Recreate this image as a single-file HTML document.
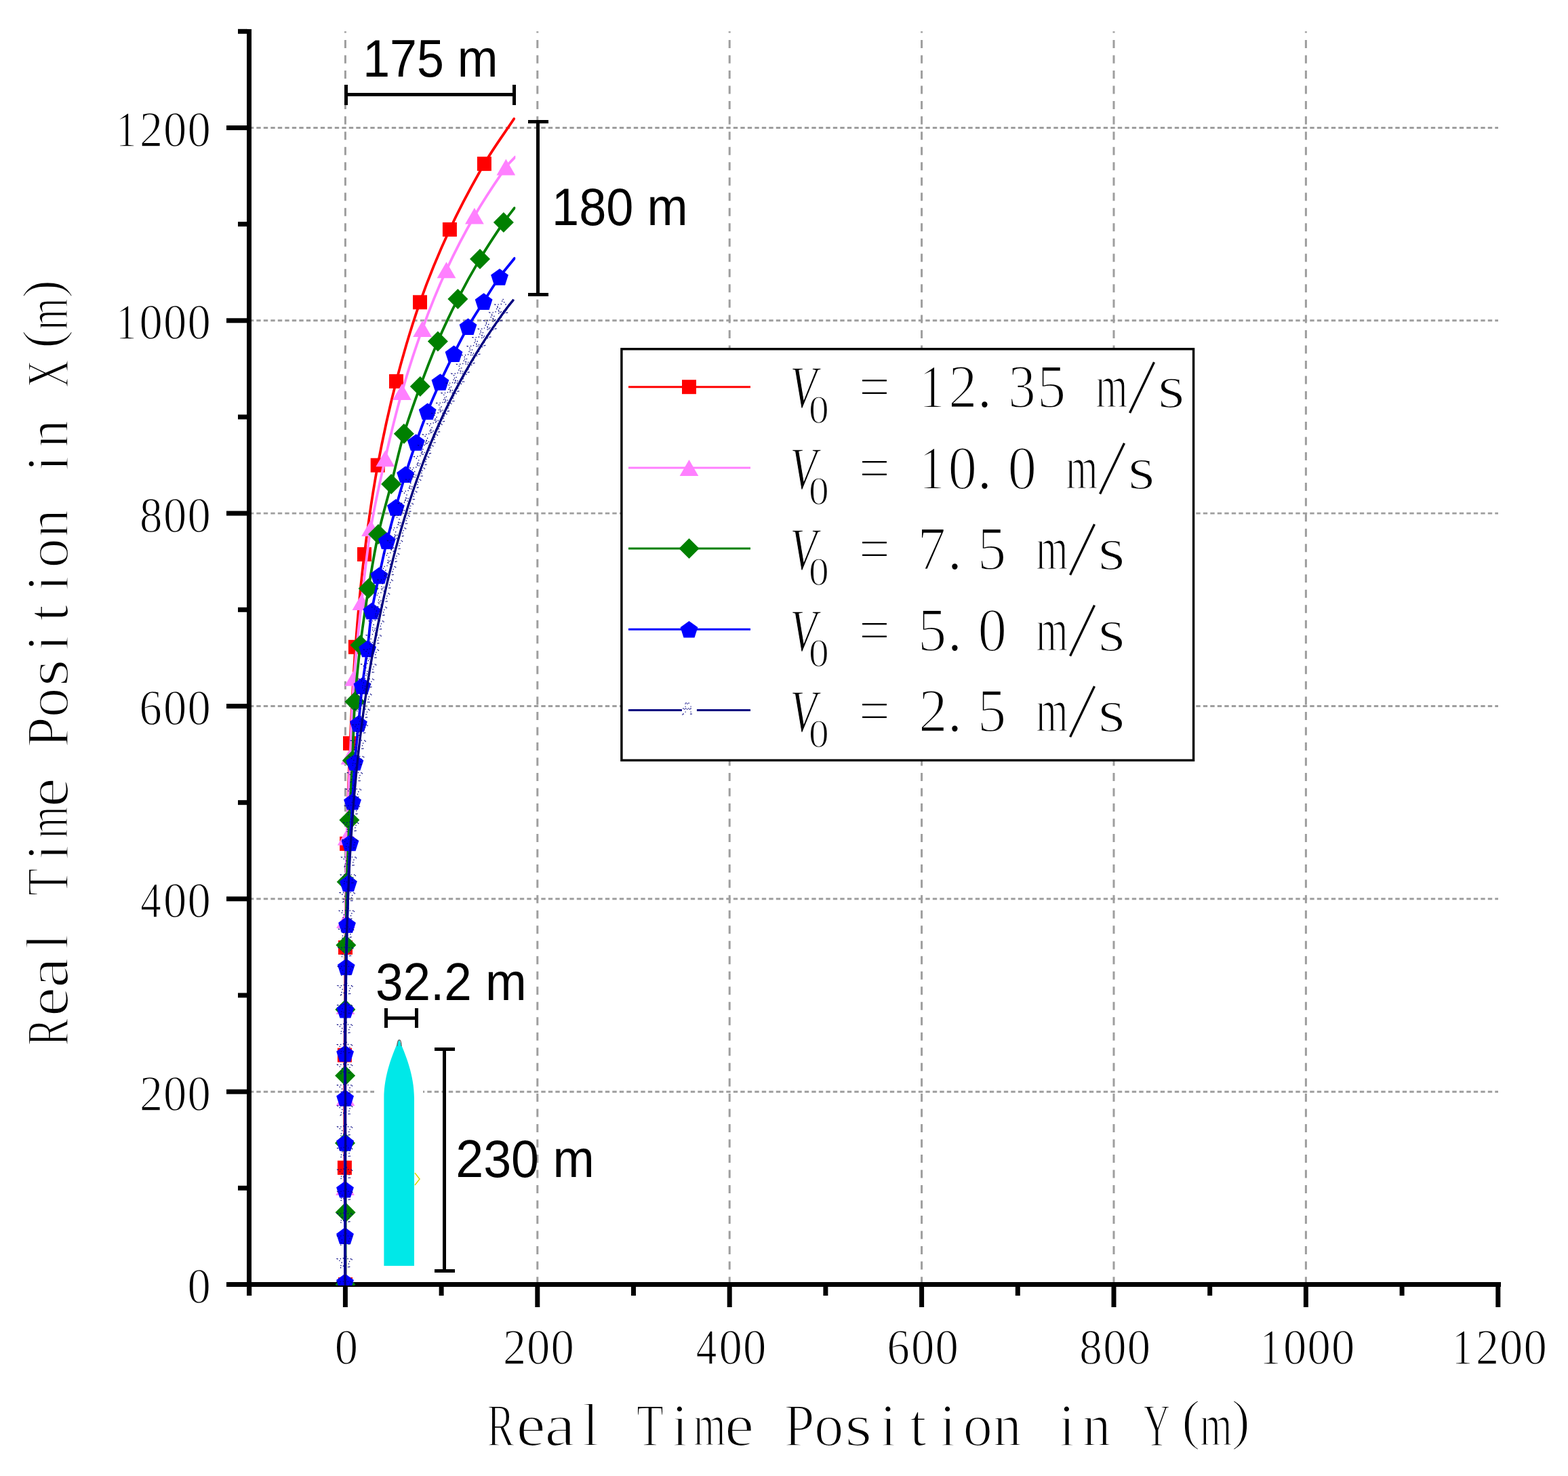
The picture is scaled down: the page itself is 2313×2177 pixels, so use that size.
<!DOCTYPE html><html><head><meta charset="utf-8"><style>html,body{margin:0;padding:0;background:#fff}svg{display:block}</style></head><body>
<svg width="2313" height="2177" viewBox="0 0 2313 2177">
<rect x="0" y="0" width="2313" height="2177" fill="#fff"/>
<line x1="371" y1="1610.2" x2="2210" y2="1610.2" stroke="#9e9e9e" stroke-width="2.9" stroke-dasharray="6.4 4.1" stroke-dashoffset="3.2"/>
<line x1="371" y1="1325.8" x2="2210" y2="1325.8" stroke="#9e9e9e" stroke-width="2.9" stroke-dasharray="6.4 4.1" stroke-dashoffset="3.2"/>
<line x1="371" y1="1041.5" x2="2210" y2="1041.5" stroke="#9e9e9e" stroke-width="2.9" stroke-dasharray="6.4 4.1" stroke-dashoffset="3.2"/>
<line x1="371" y1="757.1" x2="2210" y2="757.1" stroke="#9e9e9e" stroke-width="2.9" stroke-dasharray="6.4 4.1" stroke-dashoffset="3.2"/>
<line x1="371" y1="472.8" x2="2210" y2="472.8" stroke="#9e9e9e" stroke-width="2.9" stroke-dasharray="6.4 4.1" stroke-dashoffset="3.2"/>
<line x1="371" y1="188.5" x2="2210" y2="188.5" stroke="#9e9e9e" stroke-width="2.9" stroke-dasharray="6.4 4.1" stroke-dashoffset="3.2"/>
<line x1="509.4" y1="46.3" x2="509.4" y2="1891" stroke="#9e9e9e" stroke-width="3" stroke-dasharray="12 10.52" stroke-dashoffset="9.8"/>
<line x1="792.8" y1="46.3" x2="792.8" y2="1891" stroke="#9e9e9e" stroke-width="3" stroke-dasharray="12 10.52" stroke-dashoffset="9.8"/>
<line x1="1076.2" y1="46.3" x2="1076.2" y2="1891" stroke="#9e9e9e" stroke-width="3" stroke-dasharray="12 10.52" stroke-dashoffset="9.8"/>
<line x1="1359.6" y1="46.3" x2="1359.6" y2="1891" stroke="#9e9e9e" stroke-width="3" stroke-dasharray="12 10.52" stroke-dashoffset="9.8"/>
<line x1="1643.0" y1="46.3" x2="1643.0" y2="1891" stroke="#9e9e9e" stroke-width="3" stroke-dasharray="12 10.52" stroke-dashoffset="9.8"/>
<line x1="1926.4" y1="46.3" x2="1926.4" y2="1891" stroke="#9e9e9e" stroke-width="3" stroke-dasharray="12 10.52" stroke-dashoffset="9.8"/>
<rect x="552" y="1525" width="72" height="347" fill="#fff"/>
<rect x="364" y="43" width="7" height="1868" fill="#000"/>
<rect x="334" y="1891" width="1880" height="7" fill="#000"/>
<rect x="334" y="1891.0" width="31" height="7" fill="#000"/>
<rect x="351" y="1748.8" width="14" height="7" fill="#000"/>
<rect x="334" y="1606.7" width="31" height="7" fill="#000"/>
<rect x="351" y="1464.5" width="14" height="7" fill="#000"/>
<rect x="334" y="1322.3" width="31" height="7" fill="#000"/>
<rect x="351" y="1180.2" width="14" height="7" fill="#000"/>
<rect x="334" y="1038.0" width="31" height="7" fill="#000"/>
<rect x="351" y="895.8" width="14" height="7" fill="#000"/>
<rect x="334" y="753.6" width="31" height="7" fill="#000"/>
<rect x="351" y="611.5" width="14" height="7" fill="#000"/>
<rect x="334" y="469.3" width="31" height="7" fill="#000"/>
<rect x="351" y="327.1" width="14" height="7" fill="#000"/>
<rect x="334" y="185.0" width="31" height="7" fill="#000"/>
<rect x="351" y="42.8" width="14" height="7" fill="#000"/>
<rect x="364.2" y="1897" width="7" height="14" fill="#000"/>
<rect x="505.9" y="1897" width="7" height="31" fill="#000"/>
<rect x="647.6" y="1897" width="7" height="14" fill="#000"/>
<rect x="789.3" y="1897" width="7" height="31" fill="#000"/>
<rect x="931.0" y="1897" width="7" height="14" fill="#000"/>
<rect x="1072.7" y="1897" width="7" height="31" fill="#000"/>
<rect x="1214.4" y="1897" width="7" height="14" fill="#000"/>
<rect x="1356.1" y="1897" width="7" height="31" fill="#000"/>
<rect x="1497.8" y="1897" width="7" height="14" fill="#000"/>
<rect x="1639.5" y="1897" width="7" height="31" fill="#000"/>
<rect x="1781.2" y="1897" width="7" height="14" fill="#000"/>
<rect x="1922.9" y="1897" width="7" height="31" fill="#000"/>
<rect x="2064.6" y="1897" width="7" height="14" fill="#000"/>
<rect x="2206.3" y="1897" width="7" height="31" fill="#000"/>
<text style="font-family:'Liberation Serif','Noto Serif CJK SC',serif;stroke:#fff;stroke-width:1.4px;font-size:74px"><tspan x="276.5" y="1922.0" textLength="34.33" lengthAdjust="spacingAndGlyphs">0</tspan></text>
<text style="font-family:'Liberation Serif','Noto Serif CJK SC',serif;stroke:#fff;stroke-width:1.4px;font-size:74px"><tspan x="206.0" y="1637.7" textLength="34.08" lengthAdjust="spacingAndGlyphs">2</tspan><tspan x="241.0" y="1637.7" textLength="34.33" lengthAdjust="spacingAndGlyphs">0</tspan><tspan x="276.5" y="1637.7" textLength="34.33" lengthAdjust="spacingAndGlyphs">0</tspan></text>
<text style="font-family:'Liberation Serif','Noto Serif CJK SC',serif;stroke:#fff;stroke-width:1.4px;font-size:74px"><tspan x="207.2" y="1353.3" textLength="30.60" lengthAdjust="spacingAndGlyphs">4</tspan><tspan x="241.0" y="1353.3" textLength="34.33" lengthAdjust="spacingAndGlyphs">0</tspan><tspan x="276.5" y="1353.3" textLength="34.33" lengthAdjust="spacingAndGlyphs">0</tspan></text>
<text style="font-family:'Liberation Serif','Noto Serif CJK SC',serif;stroke:#fff;stroke-width:1.4px;font-size:74px"><tspan x="205.6" y="1069.0" textLength="33.26" lengthAdjust="spacingAndGlyphs">6</tspan><tspan x="241.0" y="1069.0" textLength="34.33" lengthAdjust="spacingAndGlyphs">0</tspan><tspan x="276.5" y="1069.0" textLength="34.33" lengthAdjust="spacingAndGlyphs">0</tspan></text>
<text style="font-family:'Liberation Serif','Noto Serif CJK SC',serif;stroke:#fff;stroke-width:1.4px;font-size:74px"><tspan x="205.9" y="784.6" textLength="33.49" lengthAdjust="spacingAndGlyphs">8</tspan><tspan x="241.0" y="784.6" textLength="34.33" lengthAdjust="spacingAndGlyphs">0</tspan><tspan x="276.5" y="784.6" textLength="34.33" lengthAdjust="spacingAndGlyphs">0</tspan></text>
<text style="font-family:'Liberation Serif','Noto Serif CJK SC',serif;stroke:#fff;stroke-width:1.4px;font-size:74px"><tspan x="171.2" y="500.3" textLength="30.26" lengthAdjust="spacingAndGlyphs">1</tspan><tspan x="205.5" y="500.3" textLength="34.33" lengthAdjust="spacingAndGlyphs">0</tspan><tspan x="241.0" y="500.3" textLength="34.33" lengthAdjust="spacingAndGlyphs">0</tspan><tspan x="276.5" y="500.3" textLength="34.33" lengthAdjust="spacingAndGlyphs">0</tspan></text>
<text style="font-family:'Liberation Serif','Noto Serif CJK SC',serif;stroke:#fff;stroke-width:1.4px;font-size:74px"><tspan x="171.2" y="216.0" textLength="30.26" lengthAdjust="spacingAndGlyphs">1</tspan><tspan x="206.0" y="216.0" textLength="34.08" lengthAdjust="spacingAndGlyphs">2</tspan><tspan x="241.0" y="216.0" textLength="34.33" lengthAdjust="spacingAndGlyphs">0</tspan><tspan x="276.5" y="216.0" textLength="34.33" lengthAdjust="spacingAndGlyphs">0</tspan></text>
<text style="font-family:'Liberation Serif','Noto Serif CJK SC',serif;stroke:#fff;stroke-width:1.4px;font-size:74px"><tspan x="493.7" y="2012.0" textLength="34.33" lengthAdjust="spacingAndGlyphs">0</tspan></text>
<text style="font-family:'Liberation Serif','Noto Serif CJK SC',serif;stroke:#fff;stroke-width:1.4px;font-size:74px"><tspan x="742.1" y="2012.0" textLength="34.08" lengthAdjust="spacingAndGlyphs">2</tspan><tspan x="777.1" y="2012.0" textLength="34.33" lengthAdjust="spacingAndGlyphs">0</tspan><tspan x="812.6" y="2012.0" textLength="34.33" lengthAdjust="spacingAndGlyphs">0</tspan></text>
<text style="font-family:'Liberation Serif','Noto Serif CJK SC',serif;stroke:#fff;stroke-width:1.4px;font-size:74px"><tspan x="1026.8" y="2012.0" textLength="30.60" lengthAdjust="spacingAndGlyphs">4</tspan><tspan x="1060.5" y="2012.0" textLength="34.33" lengthAdjust="spacingAndGlyphs">0</tspan><tspan x="1096.0" y="2012.0" textLength="34.33" lengthAdjust="spacingAndGlyphs">0</tspan></text>
<text style="font-family:'Liberation Serif','Noto Serif CJK SC',serif;stroke:#fff;stroke-width:1.4px;font-size:74px"><tspan x="1308.5" y="2012.0" textLength="33.26" lengthAdjust="spacingAndGlyphs">6</tspan><tspan x="1343.9" y="2012.0" textLength="34.33" lengthAdjust="spacingAndGlyphs">0</tspan><tspan x="1379.4" y="2012.0" textLength="34.33" lengthAdjust="spacingAndGlyphs">0</tspan></text>
<text style="font-family:'Liberation Serif','Noto Serif CJK SC',serif;stroke:#fff;stroke-width:1.4px;font-size:74px"><tspan x="1592.3" y="2012.0" textLength="33.49" lengthAdjust="spacingAndGlyphs">8</tspan><tspan x="1627.3" y="2012.0" textLength="34.33" lengthAdjust="spacingAndGlyphs">0</tspan><tspan x="1662.8" y="2012.0" textLength="34.33" lengthAdjust="spacingAndGlyphs">0</tspan></text>
<text style="font-family:'Liberation Serif','Noto Serif CJK SC',serif;stroke:#fff;stroke-width:1.4px;font-size:74px"><tspan x="1858.7" y="2012.0" textLength="30.26" lengthAdjust="spacingAndGlyphs">1</tspan><tspan x="1893.0" y="2012.0" textLength="34.33" lengthAdjust="spacingAndGlyphs">0</tspan><tspan x="1928.5" y="2012.0" textLength="34.33" lengthAdjust="spacingAndGlyphs">0</tspan><tspan x="1964.0" y="2012.0" textLength="34.33" lengthAdjust="spacingAndGlyphs">0</tspan></text>
<text style="font-family:'Liberation Serif','Noto Serif CJK SC',serif;stroke:#fff;stroke-width:1.4px;font-size:74px"><tspan x="2142.1" y="2012.0" textLength="30.26" lengthAdjust="spacingAndGlyphs">1</tspan><tspan x="2176.9" y="2012.0" textLength="34.08" lengthAdjust="spacingAndGlyphs">2</tspan><tspan x="2211.9" y="2012.0" textLength="34.33" lengthAdjust="spacingAndGlyphs">0</tspan><tspan x="2247.4" y="2012.0" textLength="34.33" lengthAdjust="spacingAndGlyphs">0</tspan></text>
<text style="font-family:'Liberation Serif','Noto Serif CJK SC',serif;stroke:#fff;stroke-width:2.2px;font-size:89.8px"><tspan x="718.5" y="2132.4" textLength="40.20" lengthAdjust="spacingAndGlyphs">R</tspan><tspan x="761.6" y="2132.4" textLength="43.21" lengthAdjust="spacingAndGlyphs">e</tspan><tspan x="803.3" y="2132.4" textLength="45.84" lengthAdjust="spacingAndGlyphs">a</tspan><tspan x="858.8" y="2132.4">l</tspan> <tspan x="939.1" y="2132.4" textLength="39.97" lengthAdjust="spacingAndGlyphs">T</tspan><tspan x="990.5" y="2132.4">i</tspan><tspan x="1023.1" y="2132.4" textLength="47.50" lengthAdjust="spacingAndGlyphs">m</tspan><tspan x="1069.1" y="2132.4" textLength="43.21" lengthAdjust="spacingAndGlyphs">e</tspan> <tspan x="1156.8" y="2132.4" textLength="44.75" lengthAdjust="spacingAndGlyphs">P</tspan><tspan x="1200.9" y="2132.4" textLength="43.52" lengthAdjust="spacingAndGlyphs">o</tspan><tspan x="1246.3" y="2132.4" textLength="40.19" lengthAdjust="spacingAndGlyphs">s</tspan><tspan x="1298.0" y="2132.4">i</tspan><tspan x="1341.8" y="2132.4">t</tspan><tspan x="1385.8" y="2132.4">i</tspan><tspan x="1420.6" y="2132.4" textLength="43.52" lengthAdjust="spacingAndGlyphs">o</tspan><tspan x="1465.0" y="2132.4" textLength="41.84" lengthAdjust="spacingAndGlyphs">n</tspan> <tspan x="1561.6" y="2132.4">i</tspan><tspan x="1596.8" y="2132.4" textLength="41.84" lengthAdjust="spacingAndGlyphs">n</tspan> <tspan x="1686.4" y="2132.4" textLength="39.77" lengthAdjust="spacingAndGlyphs">Y</tspan><tspan x="1743.2" y="2122.4" textLength="27.32" lengthAdjust="spacingAndGlyphs" style="font-size:83.5px">(</tspan><tspan x="1769.9" y="2132.4" textLength="47.50" lengthAdjust="spacingAndGlyphs">m</tspan><tspan x="1816.6" y="2122.4" textLength="27.32" lengthAdjust="spacingAndGlyphs" style="font-size:83.5px">)</tspan></text>
<g transform="translate(99.6 1543.5) rotate(-90)"><text style="font-family:'Liberation Serif','Noto Serif CJK SC',serif;stroke:#fff;stroke-width:2.2px;font-size:89.8px"><tspan x="1.0" y="0.0" textLength="40.36" lengthAdjust="spacingAndGlyphs">R</tspan><tspan x="44.3" y="0.0" textLength="43.38" lengthAdjust="spacingAndGlyphs">e</tspan><tspan x="86.2" y="0.0" textLength="45.84" lengthAdjust="spacingAndGlyphs">a</tspan><tspan x="141.9" y="0.0">l</tspan> <tspan x="222.4" y="0.0" textLength="40.13" lengthAdjust="spacingAndGlyphs">T</tspan><tspan x="274.1" y="0.0">i</tspan><tspan x="306.8" y="0.0" textLength="47.68" lengthAdjust="spacingAndGlyphs">m</tspan><tspan x="353.0" y="0.0" textLength="43.38" lengthAdjust="spacingAndGlyphs">e</tspan> <tspan x="441.0" y="0.0" textLength="44.92" lengthAdjust="spacingAndGlyphs">P</tspan><tspan x="485.3" y="0.0" textLength="43.68" lengthAdjust="spacingAndGlyphs">o</tspan><tspan x="530.9" y="0.0" textLength="40.19" lengthAdjust="spacingAndGlyphs">s</tspan><tspan x="582.8" y="0.0">i</tspan><tspan x="626.8" y="0.0">t</tspan><tspan x="671.0" y="0.0">i</tspan><tspan x="705.8" y="0.0" textLength="43.68" lengthAdjust="spacingAndGlyphs">o</tspan><tspan x="750.4" y="0.0" textLength="42.00" lengthAdjust="spacingAndGlyphs">n</tspan> <tspan x="847.4" y="0.0">i</tspan><tspan x="882.7" y="0.0" textLength="42.00" lengthAdjust="spacingAndGlyphs">n</tspan> <tspan x="971.7" y="0.0" textLength="40.91" lengthAdjust="spacingAndGlyphs">X</tspan><tspan x="1029.6" y="-10.1" textLength="27.43" lengthAdjust="spacingAndGlyphs" style="font-size:83.5px">(</tspan><tspan x="1056.5" y="0.0" textLength="47.68" lengthAdjust="spacingAndGlyphs">m</tspan><tspan x="1103.4" y="-10.1" textLength="27.43" lengthAdjust="spacingAndGlyphs" style="font-size:83.5px">)</tspan></text></g>
<rect x="508" y="137.0" width="253" height="5" fill="#000"/><rect x="508" y="125" width="5" height="30" fill="#000"/><rect x="756" y="125" width="5" height="30" fill="#000"/>
<text transform="matrix(0.932 0 0 1 535.2 113)" style="font-family:'Liberation Sans',Arial,sans-serif;font-size:77px">175 m</text>
<rect x="791.0" y="177" width="5" height="260" fill="#000"/><rect x="779" y="177" width="30" height="5" fill="#000"/><rect x="779" y="432" width="30" height="5" fill="#000"/>
<text transform="matrix(0.937 0 0 1 814.1 332)" style="font-family:'Liberation Sans',Arial,sans-serif;font-size:77px">180 m</text>
<rect x="567" y="1499.2" width="50" height="5" fill="#000"/><rect x="567" y="1487" width="5" height="29" fill="#000"/><rect x="612" y="1487" width="5" height="29" fill="#000"/>
<text transform="matrix(0.947 0 0 1 553.9 1475)" style="font-family:'Liberation Sans',Arial,sans-serif;font-size:77px">32.2 m</text>
<rect x="653.0" y="1545" width="5" height="332" fill="#000"/><rect x="641" y="1545" width="30" height="5" fill="#000"/><rect x="641" y="1872" width="30" height="5" fill="#000"/>
<text transform="matrix(0.956 0 0 1 672.2 1736)" style="font-family:'Liberation Sans',Arial,sans-serif;font-size:77px">230 m</text>
<path d="M588.6,1533 C598,1555 611,1585 611,1620 L611,1867 L566.4,1867 L566.4,1620 C566.4,1585 579,1555 588.6,1533 Z" fill="#00e8e8"/>
<path d="M612,1730 L619,1739 L612,1748" fill="none" stroke="#d8d800" stroke-width="1.5"/>
<path d="M586,1543 C586,1531 592,1531 592,1543" fill="none" stroke="#666" stroke-width="1.3"/>
<defs><clipPath id="pc"><rect x="300" y="40" width="460.3" height="1856"/></clipPath></defs><g clip-path="url(#pc)">
<path d="M509.5,1894.5 C509.1,1837.1 508.6,1779.7 508.4,1722.3 C508.2,1666.9 508.2,1611.6 508.4,1556.2 C508.6,1503.3 509.0,1450.4 509.5,1397.5 C510.0,1346.5 510.4,1295.4 511.6,1244.4 C512.7,1195.0 514.3,1145.6 516.5,1096.3 C518.6,1048.9 520.8,1001.6 524.4,954.3 C527.8,908.7 531.9,863.0 537.5,817.6 C542.9,773.6 549.2,729.8 557.2,686.2 C564.9,644.6 573.9,603.3 584.5,562.4 C594.7,523.1 606.0,484.1 619.5,445.8 C632.3,409.4 647.1,373.5 663.4,338.5 C678.8,305.4 696.1,273.2 714.4,241.6 C727.7,218.7 743.6,197.3 758.2,175.2" fill="none" stroke="#ff0000" stroke-width="3.8" stroke-linejoin="round" stroke-linecap="round"/>
<rect x="499.0" y="1884.0" width="21" height="21" fill="#ff0000"/>
<rect x="497.9" y="1711.8" width="21" height="21" fill="#ff0000"/>
<rect x="497.9" y="1545.7" width="21" height="21" fill="#ff0000"/>
<rect x="499.0" y="1387.0" width="21" height="21" fill="#ff0000"/>
<rect x="501.1" y="1233.9" width="21" height="21" fill="#ff0000"/>
<rect x="506.0" y="1085.8" width="21" height="21" fill="#ff0000"/>
<rect x="513.9" y="943.8" width="21" height="21" fill="#ff0000"/>
<rect x="527.0" y="807.1" width="21" height="21" fill="#ff0000"/>
<rect x="546.7" y="675.7" width="21" height="21" fill="#ff0000"/>
<rect x="574.0" y="551.9" width="21" height="21" fill="#ff0000"/>
<rect x="609.0" y="435.3" width="21" height="21" fill="#ff0000"/>
<rect x="652.9" y="328.0" width="21" height="21" fill="#ff0000"/>
<rect x="703.9" y="231.1" width="21" height="21" fill="#ff0000"/>
<path d="M509.5,1894.5 C509.3,1846.7 509.0,1798.8 509.0,1751.0 C509.0,1707.0 509.4,1663.0 509.5,1619.0 C509.6,1574.0 509.4,1529.0 509.5,1484.0 C509.6,1441.7 509.6,1399.3 510.0,1357.0 C510.3,1316.3 510.5,1275.5 511.6,1234.8 C512.7,1195.0 514.7,1155.3 516.5,1115.5 C518.3,1076.9 519.4,1038.2 522.3,999.7 C525.1,962.4 529.2,925.2 533.4,888.0 C537.5,851.6 541.0,815.1 547.0,779.0 C552.7,744.5 560.5,710.3 568.3,676.2 C575.8,643.3 583.7,610.5 593.0,578.1 C602.0,546.8 611.9,515.7 623.1,485.1 C633.8,455.7 645.4,426.7 658.5,398.3 C671.0,371.1 684.9,344.4 699.9,318.5 C714.2,293.8 730.1,270.0 746.4,246.5 C750.2,241.0 755.5,236.6 760.0,231.6" fill="none" stroke="#ff80ff" stroke-width="3.8" stroke-linejoin="round" stroke-linecap="round"/>
<polygon points="509.5,1882.5 523.4,1906.5 495.6,1906.5" fill="#ff80ff"/>
<polygon points="509.0,1739.0 522.9,1763.0 495.1,1763.0" fill="#ff80ff"/>
<polygon points="509.5,1607.0 523.4,1631.0 495.6,1631.0" fill="#ff80ff"/>
<polygon points="509.5,1472.0 523.4,1496.0 495.6,1496.0" fill="#ff80ff"/>
<polygon points="510.0,1345.0 523.9,1369.0 496.1,1369.0" fill="#ff80ff"/>
<polygon points="511.6,1222.8 525.5,1246.8 497.8,1246.8" fill="#ff80ff"/>
<polygon points="516.5,1103.5 530.4,1127.5 502.6,1127.5" fill="#ff80ff"/>
<polygon points="522.3,987.7 536.1,1011.7 508.4,1011.7" fill="#ff80ff"/>
<polygon points="533.4,876.0 547.2,900.0 519.5,900.0" fill="#ff80ff"/>
<polygon points="547.0,767.0 560.9,791.0 533.1,791.0" fill="#ff80ff"/>
<polygon points="568.3,664.2 582.1,688.2 554.4,688.2" fill="#ff80ff"/>
<polygon points="593.0,566.1 606.9,590.1 579.1,590.1" fill="#ff80ff"/>
<polygon points="623.1,473.1 637.0,497.1 609.2,497.1" fill="#ff80ff"/>
<polygon points="658.5,386.3 672.4,410.3 644.6,410.3" fill="#ff80ff"/>
<polygon points="699.9,306.5 713.8,330.5 686.0,330.5" fill="#ff80ff"/>
<polygon points="746.4,234.5 760.2,258.5 732.5,258.5" fill="#ff80ff"/>
<path d="M509.5,1894.5 C509.5,1859.1 509.7,1823.6 509.6,1788.2 C509.5,1754.1 509.1,1720.1 509.0,1686.0 C508.9,1652.8 509.0,1619.6 509.1,1586.4 C509.2,1553.9 509.2,1521.5 509.4,1489.0 C509.6,1457.3 510.0,1425.6 510.4,1393.9 C510.8,1362.8 510.9,1331.8 511.7,1300.7 C512.5,1270.3 514.0,1240.0 515.4,1209.6 C516.7,1180.3 518.5,1151.0 519.9,1121.7 C521.2,1092.8 521.5,1063.9 523.5,1035.1 C525.4,1007.2 528.2,979.3 531.5,951.5 C534.9,923.6 539.1,895.8 543.6,868.0 C547.9,841.3 552.2,814.5 558.0,788.0 C563.4,763.1 570.8,738.7 577.1,714.0 C583.4,689.2 588.6,664.2 595.9,639.7 C602.9,616.1 611.3,593.0 619.8,569.9 C628.0,547.5 636.5,525.3 645.9,503.4 C655.0,482.2 664.9,461.4 675.4,440.9 C685.6,420.9 696.5,401.2 708.0,381.9 C719.0,363.5 730.9,345.6 742.9,327.9 C747.9,320.6 753.6,313.8 759.0,306.7" fill="none" stroke="#008000" stroke-width="3.8" stroke-linejoin="round" stroke-linecap="round"/>
<polygon points="509.5,1879.5 524.5,1894.5 509.5,1909.5 494.5,1894.5" fill="#008000"/>
<polygon points="509.6,1773.2 524.6,1788.2 509.6,1803.2 494.6,1788.2" fill="#008000"/>
<polygon points="509.0,1671.0 524.0,1686.0 509.0,1701.0 494.0,1686.0" fill="#008000"/>
<polygon points="509.1,1571.4 524.1,1586.4 509.1,1601.4 494.1,1586.4" fill="#008000"/>
<polygon points="509.4,1474.0 524.4,1489.0 509.4,1504.0 494.4,1489.0" fill="#008000"/>
<polygon points="510.4,1378.9 525.4,1393.9 510.4,1408.9 495.4,1393.9" fill="#008000"/>
<polygon points="511.7,1285.7 526.7,1300.7 511.7,1315.7 496.7,1300.7" fill="#008000"/>
<polygon points="515.4,1194.6 530.4,1209.6 515.4,1224.6 500.4,1209.6" fill="#008000"/>
<polygon points="519.9,1106.7 534.9,1121.7 519.9,1136.7 504.9,1121.7" fill="#008000"/>
<polygon points="523.5,1020.1 538.5,1035.1 523.5,1050.1 508.5,1035.1" fill="#008000"/>
<polygon points="531.5,936.5 546.5,951.5 531.5,966.5 516.5,951.5" fill="#008000"/>
<polygon points="543.6,853.0 558.6,868.0 543.6,883.0 528.6,868.0" fill="#008000"/>
<polygon points="558.0,773.0 573.0,788.0 558.0,803.0 543.0,788.0" fill="#008000"/>
<polygon points="577.1,699.0 592.1,714.0 577.1,729.0 562.1,714.0" fill="#008000"/>
<polygon points="595.9,624.7 610.9,639.7 595.9,654.7 580.9,639.7" fill="#008000"/>
<polygon points="619.8,554.9 634.8,569.9 619.8,584.9 604.8,569.9" fill="#008000"/>
<polygon points="645.9,488.4 660.9,503.4 645.9,518.4 630.9,503.4" fill="#008000"/>
<polygon points="675.4,425.9 690.4,440.9 675.4,455.9 660.4,440.9" fill="#008000"/>
<polygon points="708.0,366.9 723.0,381.9 708.0,396.9 693.0,381.9" fill="#008000"/>
<polygon points="742.9,312.9 757.9,327.9 742.9,342.9 727.9,327.9" fill="#008000"/>
<path d="M509.0,1890.9 C509.0,1868.1 509.0,1845.4 509.0,1822.6 C509.0,1799.8 509.0,1777.0 509.0,1754.2 C509.0,1731.3 509.1,1708.4 509.1,1685.5 C509.1,1663.5 509.1,1641.4 509.1,1619.4 C509.1,1597.5 509.0,1575.6 509.1,1553.7 C509.1,1532.2 509.1,1510.8 509.4,1489.3 C509.7,1468.2 510.3,1447.1 510.7,1426.0 C511.1,1405.3 511.5,1384.5 512.0,1363.8 C512.5,1343.4 513.1,1323.0 513.9,1302.6 C514.6,1282.7 515.5,1262.9 516.5,1243.0 C517.5,1222.8 518.8,1202.5 520.0,1182.3 C521.1,1163.0 521.9,1143.6 523.4,1124.3 C524.9,1105.2 527.0,1086.2 528.9,1067.2 C530.7,1048.6 532.2,1030.0 534.4,1011.4 C536.6,993.2 539.8,975.1 542.1,956.9 C544.5,938.3 545.6,919.6 548.5,901.1 C551.3,883.6 555.5,866.3 559.3,848.9 C563.0,831.8 566.7,814.6 570.9,797.6 C574.9,781.1 579.4,764.7 583.9,748.4 C588.4,732.1 593.1,715.9 598.1,699.8 C603.0,683.9 608.3,668.2 613.8,652.5 C619.2,637.2 624.7,621.9 630.7,606.8 C636.5,592.2 642.9,577.8 649.4,563.5 C655.8,549.5 662.6,535.6 669.5,521.8 C676.3,508.3 683.0,494.8 690.5,481.7 C697.7,469.1 705.8,456.9 713.6,444.6 C721.3,432.5 728.7,420.2 737.0,408.5 C743.8,398.9 751.7,390.2 759.0,381.0" fill="none" stroke="#0000ff" stroke-width="3.8" stroke-linejoin="round" stroke-linecap="round"/>
<polygon points="509.0,1878.6 521.9,1888.0 517.0,1903.2 501.0,1903.2 496.1,1888.0" fill="#0000ff"/>
<polygon points="509.0,1810.3 521.9,1819.7 517.0,1834.9 501.0,1834.9 496.1,1819.7" fill="#0000ff"/>
<polygon points="509.0,1741.9 521.9,1751.3 517.0,1766.5 501.0,1766.5 496.1,1751.3" fill="#0000ff"/>
<polygon points="509.1,1673.2 522.0,1682.6 517.1,1697.8 501.1,1697.8 496.2,1682.6" fill="#0000ff"/>
<polygon points="509.1,1607.1 522.0,1616.5 517.1,1631.7 501.1,1631.7 496.2,1616.5" fill="#0000ff"/>
<polygon points="509.1,1541.4 522.0,1550.8 517.1,1566.0 501.1,1566.0 496.2,1550.8" fill="#0000ff"/>
<polygon points="509.4,1477.0 522.3,1486.4 517.4,1501.6 501.4,1501.6 496.5,1486.4" fill="#0000ff"/>
<polygon points="510.7,1413.7 523.6,1423.1 518.7,1438.3 502.7,1438.3 497.8,1423.1" fill="#0000ff"/>
<polygon points="512.0,1351.5 524.9,1360.9 520.0,1376.1 504.0,1376.1 499.1,1360.9" fill="#0000ff"/>
<polygon points="513.9,1290.3 526.8,1299.7 521.9,1314.9 505.9,1314.9 501.0,1299.7" fill="#0000ff"/>
<polygon points="516.5,1230.7 529.4,1240.1 524.5,1255.3 508.5,1255.3 503.6,1240.1" fill="#0000ff"/>
<polygon points="520.0,1170.0 532.9,1179.4 528.0,1194.6 512.0,1194.6 507.1,1179.4" fill="#0000ff"/>
<polygon points="523.4,1112.0 536.3,1121.4 531.4,1136.6 515.4,1136.6 510.5,1121.4" fill="#0000ff"/>
<polygon points="528.9,1054.9 541.8,1064.3 536.9,1079.5 520.9,1079.5 516.0,1064.3" fill="#0000ff"/>
<polygon points="534.4,999.1 547.3,1008.5 542.4,1023.7 526.4,1023.7 521.5,1008.5" fill="#0000ff"/>
<polygon points="542.1,944.6 555.0,954.0 550.1,969.2 534.1,969.2 529.2,954.0" fill="#0000ff"/>
<polygon points="548.5,888.8 561.4,898.2 556.5,913.4 540.5,913.4 535.6,898.2" fill="#0000ff"/>
<polygon points="559.3,836.6 572.2,846.0 567.3,861.2 551.3,861.2 546.4,846.0" fill="#0000ff"/>
<polygon points="570.9,785.3 583.8,794.7 578.9,809.9 562.9,809.9 558.0,794.7" fill="#0000ff"/>
<polygon points="583.9,736.1 596.8,745.5 591.9,760.7 575.9,760.7 571.0,745.5" fill="#0000ff"/>
<polygon points="598.1,687.5 611.0,696.9 606.1,712.1 590.1,712.1 585.2,696.9" fill="#0000ff"/>
<polygon points="613.8,640.2 626.7,649.6 621.8,664.8 605.8,664.8 600.9,649.6" fill="#0000ff"/>
<polygon points="630.7,594.5 643.6,603.9 638.7,619.1 622.7,619.1 617.8,603.9" fill="#0000ff"/>
<polygon points="649.4,551.2 662.3,560.6 657.4,575.8 641.4,575.8 636.5,560.6" fill="#0000ff"/>
<polygon points="669.5,509.5 682.4,518.9 677.5,534.1 661.5,534.1 656.6,518.9" fill="#0000ff"/>
<polygon points="690.5,469.4 703.4,478.8 698.5,494.0 682.5,494.0 677.6,478.8" fill="#0000ff"/>
<polygon points="713.6,432.3 726.5,441.7 721.6,456.9 705.6,456.9 700.7,441.7" fill="#0000ff"/>
<polygon points="737.0,396.2 749.9,405.6 745.0,420.8 729.0,420.8 724.1,405.6" fill="#0000ff"/>
<path d="M509.2,1894.5 C509.1,1890.5 509.0,1886.5 509.0,1882.5 C509.0,1878.5 509.0,1874.5 509.0,1870.5 C509.0,1866.5 509.0,1862.5 509.0,1858.5 C509.0,1854.5 509.0,1850.5 509.0,1846.5 C509.0,1842.5 509.1,1838.5 509.2,1834.5 C509.2,1830.5 509.3,1826.5 509.3,1822.5 C509.3,1818.5 509.4,1814.5 509.4,1810.5 C509.4,1806.5 509.4,1802.5 509.4,1798.5 C509.4,1794.5 509.5,1790.5 509.5,1786.5 C509.5,1782.5 509.6,1778.5 509.6,1774.5 C509.6,1770.5 509.6,1766.6 509.6,1762.6 C509.6,1758.6 509.6,1754.6 509.6,1750.6 C509.6,1746.6 509.6,1742.6 509.6,1738.6 C509.6,1734.6 509.6,1730.6 509.6,1726.6 C509.6,1722.6 509.6,1718.6 509.6,1714.6 C509.6,1710.6 509.6,1706.6 509.6,1702.6 C509.6,1698.6 509.6,1694.6 509.6,1690.6 C509.6,1686.6 509.6,1682.6 509.6,1678.6 C509.6,1674.6 509.5,1670.6 509.5,1666.6 C509.5,1662.6 509.5,1658.6 509.5,1654.6 C509.5,1650.6 509.5,1646.6 509.5,1642.6 C509.5,1638.6 509.5,1634.6 509.5,1630.6 C509.5,1626.6 509.4,1622.6 509.4,1618.6 C509.4,1614.6 509.4,1610.6 509.4,1606.6 C509.4,1602.6 509.4,1598.6 509.4,1594.6 C509.4,1590.6 509.4,1586.6 509.4,1582.6 C509.4,1578.6 509.4,1574.6 509.4,1570.6 C509.4,1566.6 509.4,1562.6 509.4,1558.6 C509.4,1554.6 509.4,1550.6 509.4,1546.6 C509.4,1542.6 509.5,1538.6 509.5,1534.6 C509.5,1530.6 509.5,1526.7 509.5,1522.7 C509.5,1518.7 509.6,1514.7 509.6,1510.7 C509.6,1506.7 509.7,1502.7 509.7,1498.7 C509.7,1494.7 509.8,1490.7 509.8,1486.7 C509.8,1482.7 509.9,1478.7 509.9,1474.7 C509.9,1470.7 510.0,1466.7 510.0,1462.7 C510.1,1458.7 510.1,1454.7 510.2,1450.7 C510.2,1446.7 510.3,1442.7 510.3,1438.7 C510.4,1434.7 510.4,1430.7 510.5,1426.7 C510.6,1422.7 510.7,1418.7 510.8,1414.7 C510.9,1410.7 510.9,1406.7 511.0,1402.7 C511.1,1398.7 511.2,1394.7 511.3,1390.7 C511.4,1386.7 511.5,1382.7 511.6,1378.7 C511.7,1374.7 511.8,1370.7 511.9,1366.7 C512.0,1362.7 512.2,1358.7 512.3,1354.7 C512.4,1350.7 512.6,1346.7 512.7,1342.7 C512.8,1338.7 513.0,1334.7 513.1,1330.7 C513.3,1326.7 513.4,1322.7 513.6,1318.7 C513.8,1314.7 513.9,1310.7 514.1,1306.7 C514.3,1302.7 514.4,1298.7 514.6,1294.7 C514.8,1290.7 515.0,1286.8 515.2,1282.8 C515.4,1278.8 515.6,1274.8 515.8,1270.8 C516.0,1266.8 516.3,1262.8 516.5,1258.8 C516.7,1254.8 517.0,1250.8 517.2,1246.8 C517.5,1242.8 517.7,1238.8 518.0,1234.8 C518.3,1230.8 518.5,1226.8 518.8,1222.8 C519.1,1218.8 519.3,1214.8 519.6,1210.8 C519.9,1206.8 520.2,1202.8 520.5,1198.8 C520.8,1194.8 521.1,1190.8 521.4,1186.8 C521.7,1182.8 522.1,1178.8 522.4,1174.8 C522.8,1170.8 523.1,1166.8 523.5,1162.8 C523.9,1158.8 524.2,1154.8 524.6,1150.8 C525.0,1146.8 525.3,1142.8 525.7,1138.8 C526.1,1134.8 526.5,1130.8 526.9,1126.8 C527.3,1122.8 527.8,1118.8 528.2,1114.8 C528.6,1110.8 529.1,1106.8 529.5,1102.8 C530.0,1098.8 530.4,1094.8 530.9,1090.8 C531.4,1086.8 531.9,1082.8 532.4,1078.8 C532.9,1074.8 533.4,1070.8 533.9,1066.8 C534.4,1062.8 535.0,1058.8 535.5,1054.8 C536.0,1050.8 536.6,1046.9 537.1,1042.9 C537.7,1038.9 538.2,1034.9 538.8,1030.9 C539.4,1026.9 540.0,1022.9 540.6,1018.9 C541.2,1014.9 541.8,1010.9 542.4,1006.9 C543.0,1002.9 543.7,998.9 544.3,994.9 C545.0,990.9 545.6,986.9 546.3,982.9 C547.0,978.9 547.7,974.9 548.4,970.9 C549.1,966.9 549.8,962.9 550.5,958.9 C551.2,954.9 552.0,950.9 552.7,946.9 C553.5,942.9 554.2,938.9 555.0,934.9 C555.8,930.9 556.5,926.9 557.3,922.9 C558.1,918.9 559.0,914.9 559.8,910.9 C560.6,906.9 561.5,902.9 562.3,898.9 C563.2,894.9 564.0,890.9 564.9,886.9 C565.8,882.9 566.7,878.9 567.6,874.9 C568.5,870.9 569.5,866.9 570.4,862.9 C571.3,858.9 572.2,854.9 573.2,850.9 C574.2,846.9 575.2,842.9 576.2,838.9 C577.2,834.9 578.2,830.9 579.2,826.9 C580.2,822.9 581.2,818.9 582.3,814.9 C583.3,810.9 584.4,807.0 585.5,803.0 C586.6,799.0 587.7,795.0 588.8,791.0 C589.9,787.0 591.0,783.0 592.2,779.0 C593.4,775.0 594.6,771.0 595.8,767.0 C597.0,763.0 598.2,759.0 599.4,755.0 C600.6,751.0 601.8,747.0 603.1,743.0 C604.4,739.0 605.7,735.0 607.0,731.0 C608.3,727.0 609.6,723.0 611.0,719.0 C612.4,715.0 613.8,711.0 615.2,707.0 C616.6,703.0 618.1,699.0 619.5,695.0 C621.0,691.0 622.4,687.0 623.9,683.0 C625.4,679.0 626.9,675.0 628.5,671.0 C630.1,667.0 631.7,663.0 633.3,659.0 C634.9,655.0 636.6,651.0 638.3,647.0 C640.0,643.0 641.7,639.0 643.4,635.0 C645.2,631.0 647.0,627.0 648.8,623.0 C650.6,619.0 652.4,615.0 654.3,611.0 C656.2,607.0 658.1,603.0 660.0,599.0 C662.0,595.0 664.0,591.0 666.0,587.0 C668.0,583.0 670.0,579.0 672.1,575.0 C674.2,571.0 676.3,567.1 678.5,563.1 C680.7,559.1 682.9,555.1 685.1,551.1 C687.4,547.1 689.7,543.1 692.0,539.1 C694.3,535.1 696.7,531.1 699.1,527.1 C701.5,523.1 703.9,519.1 706.4,515.1 C708.9,511.1 711.4,507.1 714.0,503.1 C716.6,499.1 719.2,495.1 721.9,491.1 C724.6,487.1 727.3,483.1 730.1,479.1 C732.9,475.1 735.7,471.1 738.5,467.1 C741.4,463.1 744.2,459.0 747.2,455.1 C750.3,451.0 753.5,447.1 756.7,443.1" fill="none" stroke="#000080" stroke-width="3.4" stroke-linecap="square"/>
<g fill="none" stroke="#000080" stroke-width="1.4" stroke-dasharray="1.3 3.2"><polygon points="509.0,1882.4 512.0,1890.4 520.5,1890.7 513.8,1896.0 516.1,1904.2 509.0,1899.4 502.0,1904.2 504.3,1896.0 497.6,1890.7 506.1,1890.4"/><polygon points="509.0,1848.5 511.9,1856.5 520.4,1856.8 513.8,1862.0 516.1,1870.2 509.0,1865.5 501.9,1870.2 504.2,1862.0 497.6,1856.8 506.1,1856.5"/><polygon points="509.2,1814.9 512.1,1822.9 520.6,1823.2 514.0,1828.5 516.3,1836.6 509.2,1831.9 502.2,1836.6 504.4,1828.5 497.8,1823.2 506.3,1822.9"/><polygon points="509.4,1781.8 512.3,1789.8 520.8,1790.1 514.1,1795.4 516.4,1803.5 509.4,1798.8 502.3,1803.5 504.6,1795.4 497.9,1790.1 506.4,1789.8"/><polygon points="509.6,1749.2 512.5,1757.2 521.0,1757.5 514.4,1762.7 516.7,1770.9 509.6,1766.2 502.5,1770.9 504.8,1762.7 498.2,1757.5 506.7,1757.2"/><polygon points="509.6,1717.0 512.5,1724.9 521.0,1725.3 514.4,1730.5 516.7,1738.7 509.6,1734.0 502.5,1738.7 504.8,1730.5 498.2,1725.3 506.7,1724.9"/><polygon points="509.6,1685.2 512.5,1693.1 521.0,1693.5 514.4,1698.7 516.7,1706.9 509.6,1702.2 502.5,1706.9 504.8,1698.7 498.2,1693.5 506.7,1693.1"/><polygon points="509.5,1653.8 512.4,1661.8 520.9,1662.1 514.2,1667.4 516.5,1675.5 509.5,1670.8 502.4,1675.5 504.7,1667.4 498.1,1662.1 506.5,1661.8"/><polygon points="509.5,1622.9 512.4,1630.8 520.9,1631.2 514.3,1636.4 516.6,1644.6 509.5,1639.9 502.5,1644.6 504.7,1636.4 498.1,1631.2 506.6,1630.8"/><polygon points="509.4,1592.3 512.3,1600.3 520.8,1600.6 514.2,1605.9 516.5,1614.0 509.4,1609.3 502.3,1614.0 504.6,1605.9 498.0,1600.6 506.5,1600.3"/><polygon points="509.4,1562.2 512.3,1570.2 520.8,1570.5 514.2,1575.8 516.5,1583.9 509.4,1579.2 502.3,1583.9 504.6,1575.8 498.0,1570.5 506.5,1570.2"/><polygon points="509.3,1532.5 512.3,1540.4 520.8,1540.8 514.1,1546.0 516.4,1554.2 509.3,1549.5 502.3,1554.2 504.6,1546.0 497.9,1540.8 506.4,1540.4"/><polygon points="509.5,1503.1 512.4,1511.1 520.9,1511.4 514.2,1516.7 516.5,1524.8 509.5,1520.1 502.4,1524.8 504.7,1516.7 498.1,1511.4 506.5,1511.1"/><polygon points="509.7,1474.2 512.7,1482.1 521.1,1482.5 514.5,1487.7 516.8,1495.9 509.7,1491.2 502.7,1495.9 505.0,1487.7 498.3,1482.5 506.8,1482.1"/><polygon points="509.9,1445.6 512.9,1453.6 521.3,1453.9 514.7,1459.2 517.0,1467.3 509.9,1462.6 502.9,1467.3 505.2,1459.2 498.5,1453.9 507.0,1453.6"/><polygon points="510.3,1417.4 513.2,1425.4 521.7,1425.7 515.0,1431.0 517.3,1439.1 510.3,1434.4 503.2,1439.1 505.5,1431.0 498.9,1425.7 507.3,1425.4"/><polygon points="510.8,1389.6 513.8,1397.6 522.2,1397.9 515.6,1403.2 517.9,1411.4 510.8,1406.6 503.8,1411.4 506.1,1403.2 499.4,1397.9 507.9,1397.6"/><polygon points="511.5,1362.2 514.4,1370.2 522.9,1370.5 516.2,1375.8 518.5,1383.9 511.5,1379.2 504.4,1383.9 506.7,1375.8 500.1,1370.5 508.6,1370.2"/><polygon points="512.2,1335.1 515.2,1343.1 523.7,1343.4 517.0,1348.7 519.3,1356.9 512.2,1352.1 505.2,1356.9 507.5,1348.7 500.8,1343.4 509.3,1343.1"/><polygon points="513.1,1308.4 516.1,1316.4 524.5,1316.7 517.9,1322.0 520.2,1330.1 513.1,1325.4 506.1,1330.1 508.4,1322.0 501.7,1316.7 510.2,1316.4"/><polygon points="514.2,1282.1 517.1,1290.1 525.6,1290.4 519.0,1295.7 521.3,1303.8 514.2,1299.1 507.1,1303.8 509.4,1295.7 502.8,1290.4 511.3,1290.1"/><polygon points="515.4,1256.1 518.4,1264.1 526.8,1264.4 520.2,1269.7 522.5,1277.8 515.4,1273.1 508.4,1277.8 510.7,1269.7 504.0,1264.4 512.5,1264.1"/><polygon points="516.9,1230.5 519.8,1238.4 528.3,1238.8 521.6,1244.0 523.9,1252.2 516.9,1247.5 509.8,1252.2 512.1,1244.0 505.5,1238.8 513.9,1238.4"/><polygon points="518.6,1205.3 521.5,1213.2 530.0,1213.5 523.3,1218.8 525.6,1227.0 518.6,1222.3 511.5,1227.0 513.8,1218.8 507.2,1213.5 515.6,1213.2"/><polygon points="520.3,1180.3 523.2,1188.3 531.7,1188.6 525.1,1193.9 527.4,1202.0 520.3,1197.3 513.2,1202.0 515.5,1193.9 508.9,1188.6 517.4,1188.3"/><polygon points="522.2,1155.7 525.1,1163.7 533.6,1164.0 526.9,1169.3 529.2,1177.4 522.2,1172.7 515.1,1177.4 517.4,1169.3 510.8,1164.0 519.2,1163.7"/><polygon points="524.4,1131.5 527.4,1139.5 535.8,1139.8 529.2,1145.1 531.5,1153.2 524.4,1148.5 517.4,1153.2 519.7,1145.1 513.0,1139.8 521.5,1139.5"/><polygon points="526.7,1107.6 529.6,1115.6 538.1,1115.9 531.4,1121.2 533.7,1129.3 526.7,1124.6 519.6,1129.3 521.9,1121.2 515.2,1115.9 523.7,1115.6"/><polygon points="529.2,1084.1 532.1,1092.0 540.6,1092.4 533.9,1097.6 536.2,1105.8 529.2,1101.1 522.1,1105.8 524.4,1097.6 517.8,1092.4 526.2,1092.0"/><polygon points="532.0,1060.9 534.9,1068.9 543.4,1069.2 536.7,1074.4 539.0,1082.6 532.0,1077.9 524.9,1082.6 527.2,1074.4 520.6,1069.2 529.0,1068.9"/><polygon points="534.9,1038.0 537.8,1046.0 546.3,1046.3 539.6,1051.6 541.9,1059.7 534.9,1055.0 527.8,1059.7 530.1,1051.6 523.5,1046.3 532.0,1046.0"/><polygon points="537.9,1015.5 540.9,1023.4 549.3,1023.8 542.7,1029.0 545.0,1037.2 537.9,1032.5 530.9,1037.2 533.2,1029.0 526.5,1023.8 535.0,1023.4"/><polygon points="541.2,993.3 544.1,1001.3 552.6,1001.6 546.0,1006.8 548.3,1015.0 541.2,1010.3 534.1,1015.0 536.4,1006.8 529.8,1001.6 538.3,1001.3"/><polygon points="544.6,971.4 547.6,979.4 556.0,979.7 549.4,985.0 551.7,993.1 544.6,988.4 537.6,993.1 539.9,985.0 533.2,979.7 541.7,979.4"/><polygon points="548.3,949.9 551.3,957.9 559.7,958.2 553.1,963.5 555.4,971.6 548.3,966.9 541.3,971.6 543.6,963.5 536.9,958.2 545.4,957.9"/><polygon points="552.1,928.7 555.0,936.6 563.5,937.0 556.8,942.2 559.1,950.4 552.1,945.7 545.0,950.4 547.3,942.2 540.7,937.0 549.1,936.6"/><polygon points="556.0,907.8 558.9,915.7 567.4,916.1 560.7,921.3 563.0,929.5 556.0,924.8 548.9,929.5 551.2,921.3 544.6,916.1 553.1,915.7"/><polygon points="560.2,887.2 563.2,895.2 571.6,895.5 565.0,900.8 567.3,909.0 560.2,904.2 553.2,909.0 555.5,900.8 548.8,895.5 557.3,895.2"/><polygon points="564.5,867.0 567.5,875.0 575.9,875.3 569.3,880.5 571.6,888.7 564.5,884.0 557.5,888.7 559.8,880.5 553.1,875.3 561.6,875.0"/><polygon points="569.1,847.1 572.0,855.1 580.5,855.4 573.9,860.6 576.2,868.8 569.1,864.1 562.0,868.8 564.3,860.6 557.7,855.4 566.2,855.1"/><polygon points="573.7,827.5 576.6,835.4 585.1,835.8 578.4,841.0 580.7,849.2 573.7,844.5 566.6,849.2 568.9,841.0 562.3,835.8 570.7,835.4"/><polygon points="578.5,808.2 581.4,816.2 589.9,816.5 583.2,821.7 585.5,829.9 578.5,825.2 571.4,829.9 573.7,821.7 567.1,816.5 575.5,816.2"/><polygon points="583.4,789.2 586.3,797.2 594.8,797.5 588.2,802.8 590.5,810.9 583.4,806.2 576.4,810.9 578.7,802.8 572.0,797.5 580.5,797.2"/><polygon points="588.5,770.5 591.4,778.5 599.9,778.8 593.2,784.1 595.5,792.3 588.5,787.5 581.4,792.3 583.7,784.1 577.1,778.8 585.5,778.5"/><polygon points="593.8,752.2 596.7,760.2 605.2,760.5 598.6,765.8 600.9,773.9 593.8,769.2 586.7,773.9 589.0,765.8 582.4,760.5 590.9,760.2"/><polygon points="599.2,734.2 602.1,742.1 610.6,742.5 603.9,747.7 606.2,755.9 599.2,751.2 592.1,755.9 594.4,747.7 587.8,742.5 596.2,742.1"/><polygon points="604.7,716.4 607.7,724.4 616.1,724.7 609.5,730.0 611.8,738.1 604.7,733.4 597.7,738.1 600.0,730.0 593.3,724.7 601.8,724.4"/><polygon points="610.4,699.0 613.4,707.0 621.9,707.3 615.2,712.6 617.5,720.7 610.4,716.0 603.4,720.7 605.7,712.6 599.0,707.3 607.5,707.0"/><polygon points="616.4,682.0 619.4,689.9 627.8,690.3 621.2,695.5 623.5,703.7 616.4,699.0 609.4,703.7 611.7,695.5 605.0,690.3 613.5,689.9"/><polygon points="622.5,665.2 625.4,673.1 633.9,673.5 627.2,678.7 629.5,686.9 622.5,682.2 615.4,686.9 617.7,678.7 611.1,673.5 619.6,673.1"/><polygon points="628.8,648.7 631.7,656.7 640.2,657.0 633.5,662.3 635.8,670.5 628.8,665.7 621.7,670.5 624.0,662.3 617.3,657.0 625.8,656.7"/><polygon points="635.3,632.7 638.2,640.6 646.7,641.0 640.1,646.2 642.4,654.4 635.3,649.7 628.3,654.4 630.6,646.2 623.9,641.0 632.4,640.6"/><polygon points="641.9,616.9 644.8,624.8 653.3,625.2 646.6,630.4 648.9,638.6 641.9,633.9 634.8,638.6 637.1,630.4 630.5,625.2 638.9,624.8"/><polygon points="648.8,601.4 651.8,609.4 660.2,609.7 653.6,615.0 655.9,623.2 648.8,618.4 641.8,623.2 644.1,615.0 637.4,609.7 645.9,609.4"/><polygon points="655.8,586.3 658.7,594.3 667.2,594.6 660.5,599.8 662.8,608.0 655.8,603.3 648.7,608.0 651.0,599.8 644.4,594.6 652.8,594.3"/><polygon points="663.0,571.5 666.0,579.5 674.4,579.8 667.8,585.1 670.1,593.2 663.0,588.5 656.0,593.2 658.3,585.1 651.6,579.8 660.1,579.5"/><polygon points="670.3,557.0 673.2,565.0 681.7,565.3 675.0,570.6 677.3,578.7 670.3,574.0 663.2,578.7 665.5,570.6 658.8,565.3 667.3,565.0"/><polygon points="677.8,542.9 680.8,550.9 689.2,551.2 682.6,556.5 684.9,564.6 677.8,559.9 670.8,564.6 673.1,556.5 666.4,551.2 674.9,550.9"/><polygon points="685.4,529.1 688.4,537.1 696.9,537.4 690.2,542.7 692.5,550.8 685.4,546.1 678.4,550.8 680.7,542.7 674.0,537.4 682.5,537.1"/><polygon points="693.2,515.6 696.2,523.6 704.7,523.9 698.0,529.2 700.3,537.3 693.2,532.6 686.2,537.3 688.5,529.2 681.8,523.9 690.3,523.6"/><polygon points="701.1,502.4 704.0,510.4 712.5,510.7 705.9,516.0 708.2,524.1 701.1,519.4 694.1,524.1 696.4,516.0 689.7,510.7 698.2,510.4"/><polygon points="709.1,489.5 712.0,497.5 720.5,497.8 713.8,503.1 716.1,511.3 709.1,506.5 702.0,511.3 704.3,503.1 697.7,497.8 706.1,497.5"/><polygon points="717.2,477.0 720.1,484.9 728.6,485.3 721.9,490.5 724.2,498.7 717.2,494.0 710.1,498.7 712.4,490.5 705.8,485.3 714.2,484.9"/><polygon points="725.4,464.7 728.4,472.7 736.8,473.0 730.2,478.3 732.5,486.5 725.4,481.7 718.4,486.5 720.7,478.3 714.0,473.0 722.5,472.7"/><polygon points="733.7,452.8 736.6,460.7 745.1,461.1 738.5,466.3 740.8,474.5 733.7,469.8 726.6,474.5 728.9,466.3 722.3,461.1 730.8,460.7"/><polygon points="741.9,441.0 744.9,449.0 753.3,449.3 746.7,454.6 749.0,462.8 741.9,458.0 734.9,462.8 737.2,454.6 730.5,449.3 739.0,449.0"/></g>
</g>
<rect x="916.9" y="514.8" width="843.7" height="606.6" fill="#fff" stroke="#000" stroke-width="3.4"/>
<line x1="927" y1="570.7" x2="1107" y2="570.7" stroke="#ff0000" stroke-width="3"/>
<rect x="1006.0" y="560.2" width="21" height="21" fill="#ff0000"/>
<text style="font-family:'Liberation Serif','Noto Serif CJK SC',serif;stroke:#fff;stroke-width:2.2px;font-size:90.5px"><tspan x="1165.3" y="601.4" textLength="39.69" lengthAdjust="spacingAndGlyphs" style="font-style:italic;font-size:87.8px;stroke-width:1.4px">V</tspan><tspan x="1193.1" y="624.4" style="font-size:59.4px;stroke-width:1.4px">0</tspan> <tspan x="1267.0" y="601.4" textLength="45.90" lengthAdjust="spacingAndGlyphs">=</tspan> <tspan x="1356.1" y="601.4" textLength="37.50" lengthAdjust="spacingAndGlyphs">1</tspan><tspan x="1399.2" y="601.4" textLength="42.24" lengthAdjust="spacingAndGlyphs">2</tspan><tspan x="1441.3" y="601.4" textLength="22.37" lengthAdjust="spacingAndGlyphs">.</tspan><tspan x="1487.3" y="601.4" textLength="40.48" lengthAdjust="spacingAndGlyphs">3</tspan><tspan x="1530.0" y="601.4" textLength="42.25" lengthAdjust="spacingAndGlyphs">5</tspan> <tspan x="1616.0" y="601.4" textLength="47.57" lengthAdjust="spacingAndGlyphs">m</tspan><tspan x="1664.4" y="607.4" rotate="17.5" textLength="24.20" lengthAdjust="spacingAndGlyphs" style="font-size:133.9px;stroke-width:1.4px">/</tspan><tspan x="1707.4" y="601.4" textLength="40.50" lengthAdjust="spacingAndGlyphs">s</tspan></text>
<line x1="927" y1="689.9" x2="1107" y2="689.9" stroke="#ff80ff" stroke-width="3"/>
<polygon points="1016.5,677.9 1030.3,701.9 1002.6,701.9" fill="#ff80ff"/>
<text style="font-family:'Liberation Serif','Noto Serif CJK SC',serif;stroke:#fff;stroke-width:2.2px;font-size:90.5px"><tspan x="1165.3" y="720.9" textLength="39.69" lengthAdjust="spacingAndGlyphs" style="font-style:italic;font-size:87.8px;stroke-width:1.4px">V</tspan><tspan x="1193.1" y="743.9" style="font-size:59.4px;stroke-width:1.4px">0</tspan> <tspan x="1267.0" y="720.9" textLength="45.90" lengthAdjust="spacingAndGlyphs">=</tspan> <tspan x="1356.1" y="720.9" textLength="37.50" lengthAdjust="spacingAndGlyphs">1</tspan><tspan x="1398.6" y="720.9" textLength="42.55" lengthAdjust="spacingAndGlyphs">0</tspan><tspan x="1441.3" y="720.9" textLength="22.37" lengthAdjust="spacingAndGlyphs">.</tspan><tspan x="1486.6" y="720.9" textLength="42.55" lengthAdjust="spacingAndGlyphs">0</tspan> <tspan x="1572.0" y="720.9" textLength="47.57" lengthAdjust="spacingAndGlyphs">m</tspan><tspan x="1620.4" y="726.9" rotate="17.5" textLength="24.20" lengthAdjust="spacingAndGlyphs" style="font-size:133.9px;stroke-width:1.4px">/</tspan><tspan x="1663.4" y="720.9" textLength="40.50" lengthAdjust="spacingAndGlyphs">s</tspan></text>
<line x1="927" y1="809.0" x2="1107" y2="809.0" stroke="#008000" stroke-width="3"/>
<polygon points="1016.5,794.0 1031.5,809.0 1016.5,824.0 1001.5,809.0" fill="#008000"/>
<text style="font-family:'Liberation Serif','Noto Serif CJK SC',serif;stroke:#fff;stroke-width:2.2px;font-size:90.5px"><tspan x="1165.3" y="840.4" textLength="39.69" lengthAdjust="spacingAndGlyphs" style="font-style:italic;font-size:87.8px;stroke-width:1.4px">V</tspan><tspan x="1193.1" y="863.4" style="font-size:59.4px;stroke-width:1.4px">0</tspan> <tspan x="1267.0" y="840.4" textLength="45.90" lengthAdjust="spacingAndGlyphs">=</tspan> <tspan x="1353.6" y="840.4" textLength="41.61" lengthAdjust="spacingAndGlyphs">7</tspan><tspan x="1397.3" y="840.4" textLength="22.37" lengthAdjust="spacingAndGlyphs">.</tspan><tspan x="1442.0" y="840.4" textLength="42.25" lengthAdjust="spacingAndGlyphs">5</tspan> <tspan x="1528.0" y="840.4" textLength="47.57" lengthAdjust="spacingAndGlyphs">m</tspan><tspan x="1576.4" y="846.4" rotate="17.5" textLength="24.20" lengthAdjust="spacingAndGlyphs" style="font-size:133.9px;stroke-width:1.4px">/</tspan><tspan x="1619.4" y="840.4" textLength="40.50" lengthAdjust="spacingAndGlyphs">s</tspan></text>
<line x1="927" y1="928.2" x2="1107" y2="928.2" stroke="#0000ff" stroke-width="3"/>
<polygon points="1016.5,915.9 1029.4,925.3 1024.5,940.5 1008.5,940.5 1003.6,925.3" fill="#0000ff"/>
<text style="font-family:'Liberation Serif','Noto Serif CJK SC',serif;stroke:#fff;stroke-width:2.2px;font-size:90.5px"><tspan x="1165.3" y="959.9" textLength="39.69" lengthAdjust="spacingAndGlyphs" style="font-style:italic;font-size:87.8px;stroke-width:1.4px">V</tspan><tspan x="1193.1" y="982.9" style="font-size:59.4px;stroke-width:1.4px">0</tspan> <tspan x="1267.0" y="959.9" textLength="45.90" lengthAdjust="spacingAndGlyphs">=</tspan> <tspan x="1354.0" y="959.9" textLength="42.25" lengthAdjust="spacingAndGlyphs">5</tspan><tspan x="1397.3" y="959.9" textLength="22.37" lengthAdjust="spacingAndGlyphs">.</tspan><tspan x="1442.6" y="959.9" textLength="42.55" lengthAdjust="spacingAndGlyphs">0</tspan> <tspan x="1528.0" y="959.9" textLength="47.57" lengthAdjust="spacingAndGlyphs">m</tspan><tspan x="1576.4" y="965.9" rotate="17.5" textLength="24.20" lengthAdjust="spacingAndGlyphs" style="font-size:133.9px;stroke-width:1.4px">/</tspan><tspan x="1619.4" y="959.9" textLength="40.50" lengthAdjust="spacingAndGlyphs">s</tspan></text>
<line x1="927" y1="1047.4" x2="1005.9" y2="1047.4" stroke="#000080" stroke-width="3"/><line x1="1027.9" y1="1047.4" x2="1107" y2="1047.4" stroke="#000080" stroke-width="3"/>
<rect x="1010.4" y="1037.5" width="1.2" height="1.2" fill="#000080"/><rect x="1011.2" y="1036.3" width="1.6" height="1.1" fill="#000080"/><rect x="1013.2" y="1037.5" width="1.6" height="1.1" fill="#000080"/><rect x="1015.3" y="1036.5" width="1.6" height="1.1" fill="#000080"/><rect x="1010.5" y="1041.5" width="1.2" height="1.2" fill="#000080"/><rect x="1018.5" y="1041.5" width="1.2" height="1.2" fill="#000080"/><rect x="1007.0" y="1044.4" width="1.8" height="1.1" fill="#000080"/><rect x="1008.9" y="1045.6" width="1.6" height="1.1" fill="#000080"/><rect x="1010.5" y="1044.4" width="2" height="1.1" fill="#000080"/><rect x="1012.9" y="1045.6" width="1.6" height="1.1" fill="#000080"/><rect x="1014.9" y="1044.4" width="1.6" height="1.1" fill="#000080"/><rect x="1016.7" y="1045.6" width="1.6" height="1.1" fill="#000080"/><rect x="1018.1" y="1044.4" width="1.8" height="1.1" fill="#000080"/><rect x="1010.5" y="1049.5" width="1.2" height="1.2" fill="#000080"/><rect x="1018.5" y="1049.5" width="1.2" height="1.2" fill="#000080"/><rect x="1006.0" y="1053.5" width="1.2" height="1.1" fill="#000080"/><rect x="1007.0" y="1052.5" width="2" height="1.1" fill="#000080"/><rect x="1017.9" y="1052.5" width="3" height="1.1" fill="#000080"/>
<text style="font-family:'Liberation Serif','Noto Serif CJK SC',serif;stroke:#fff;stroke-width:2.2px;font-size:90.5px"><tspan x="1165.3" y="1079.4" textLength="39.69" lengthAdjust="spacingAndGlyphs" style="font-style:italic;font-size:87.8px;stroke-width:1.4px">V</tspan><tspan x="1193.1" y="1102.4" style="font-size:59.4px;stroke-width:1.4px">0</tspan> <tspan x="1267.0" y="1079.4" textLength="45.90" lengthAdjust="spacingAndGlyphs">=</tspan> <tspan x="1355.2" y="1079.4" textLength="42.24" lengthAdjust="spacingAndGlyphs">2</tspan><tspan x="1397.3" y="1079.4" textLength="22.37" lengthAdjust="spacingAndGlyphs">.</tspan><tspan x="1442.0" y="1079.4" textLength="42.25" lengthAdjust="spacingAndGlyphs">5</tspan> <tspan x="1528.0" y="1079.4" textLength="47.57" lengthAdjust="spacingAndGlyphs">m</tspan><tspan x="1576.4" y="1085.4" rotate="17.5" textLength="24.20" lengthAdjust="spacingAndGlyphs" style="font-size:133.9px;stroke-width:1.4px">/</tspan><tspan x="1619.4" y="1079.4" textLength="40.50" lengthAdjust="spacingAndGlyphs">s</tspan></text>
</svg></body></html>
